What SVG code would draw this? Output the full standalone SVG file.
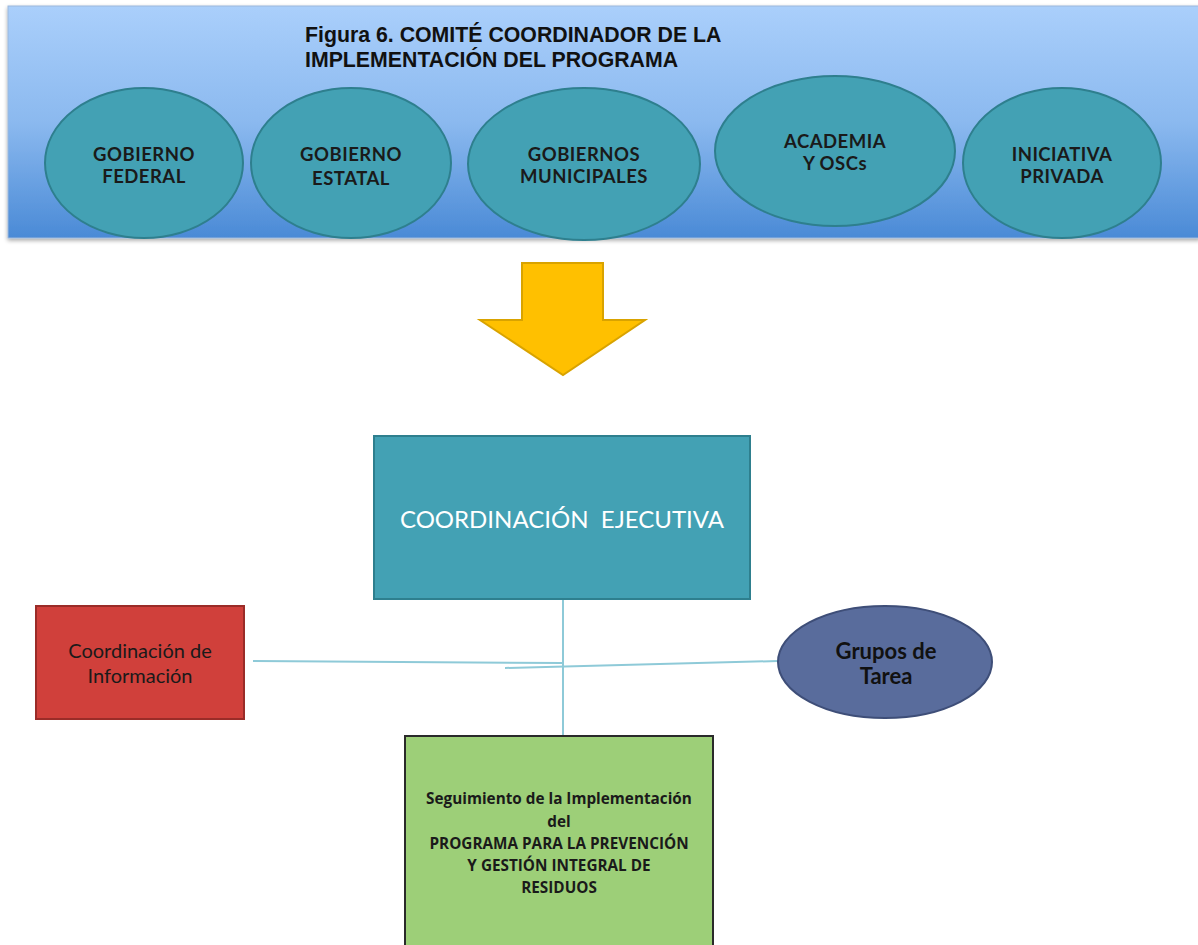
<svg xmlns="http://www.w3.org/2000/svg" width="1198" height="945" viewBox="0 0 1198 945">
<defs>
<linearGradient id="band" x1="0" y1="0" x2="0" y2="1">
<stop offset="0" stop-color="#aacffb"/>
<stop offset="0.5" stop-color="#8bb9ef"/>
<stop offset="1" stop-color="#4a8ad6"/>
</linearGradient>
<filter id="sh" x="-5%" y="-5%" width="110%" height="120%">
<feGaussianBlur in="SourceAlpha" stdDeviation="2"/>
<feOffset dy="2"/>
<feComponentTransfer><feFuncA type="linear" slope="0.35"/></feComponentTransfer>
<feMerge><feMergeNode/><feMergeNode in="SourceGraphic"/></feMerge>
</filter>
</defs>
<style>
.ell{fill:#43a1b4;stroke:#2e7f8e;stroke-width:2}
.et{font-family:Lato,"Open Sans",sans-serif;font-weight:bold;font-size:18.5px;letter-spacing:0.5px;fill:#1a1a1a;text-anchor:middle}
.title{font-family:"Liberation Sans",Arial,sans-serif;font-weight:bold;font-size:21.3px;fill:#111}
.con{stroke:#8ecad8;stroke-width:2;fill:none}
.gs{font-family:Lato,"Open Sans",sans-serif;text-anchor:middle}
.gt{font-family:"Open Sans","Liberation Sans",sans-serif;font-weight:bold;font-size:15.3px;fill:#1a1a1a;text-anchor:middle}
</style>
<rect width="1198" height="945" fill="#ffffff"/>
<g id="banner">
<rect x="8" y="6" width="1192" height="232" fill="url(#band)" stroke="#9cb8dc" stroke-width="1" filter="url(#sh)"/>
<text class="title" x="305" y="42">Figura 6. COMITÉ COORDINADOR DE LA</text>
<text class="title" x="305" y="67">IMPLEMENTACIÓN DEL PROGRAMA</text>
</g>
<g id="gobierno-federal">
<ellipse class="ell" cx="144" cy="163" rx="99" ry="75"/>
<text class="et" x="144" y="161">GOBIERNO</text>
<text class="et" x="144" y="183">FEDERAL</text>
</g>
<g id="gobierno-estatal">
<ellipse class="ell" cx="351" cy="163" rx="100" ry="75"/>
<text class="et" x="351" y="161">GOBIERNO</text>
<text class="et" x="351" y="185">ESTATAL</text>
</g>
<g id="gobiernos-municipales">
<ellipse class="ell" cx="584" cy="164" rx="116" ry="76"/>
<text class="et" x="584" y="161">GOBIERNOS</text>
<text class="et" x="584" y="183">MUNICIPALES</text>
</g>
<g id="academia">
<ellipse class="ell" cx="835" cy="151" rx="120" ry="75"/>
<text class="et" x="835" y="148">ACADEMIA</text>
<text class="et" x="835" y="170">Y OSCs</text>
</g>
<g id="iniciativa-privada">
<ellipse class="ell" cx="1062" cy="163" rx="99" ry="75"/>
<text class="et" x="1062" y="161">INICIATIVA</text>
<text class="et" x="1062" y="183">PRIVADA</text>
</g>
<g id="flecha">
<polygon points="522,263 603,263 603,320 645,320 563,375 480,320 522,320" fill="#ffc000" stroke="#d9a300" stroke-width="2"/>
</g>
<g id="connectors">
<line class="con" x1="563" y1="599" x2="563" y2="736"/>
<line class="con" x1="253" y1="661" x2="563" y2="663"/>
<line class="con" x1="505" y1="668" x2="778" y2="661"/>
</g>
<g id="coordinacion-ejecutiva">
<rect x="374" y="436" width="376" height="163" fill="#43a1b4" stroke="#2e7f8e" stroke-width="2"/>
<text class="gs" x="562" y="528" font-size="24" fill="#ffffff" xml:space="preserve">COORDINACIÓN  EJECUTIVA</text>
</g>
<g id="coordinacion-informacion">
<rect x="36" y="606" width="208" height="113" fill="#d0403b" stroke="#9a2c28" stroke-width="2"/>
<text class="gs" x="140" y="658" font-size="20" fill="#1a1a1a">Coordinación de</text>
<text class="gs" x="140" y="683" font-size="20" fill="#1a1a1a">Información</text>
</g>
<g id="grupos-tarea">
<ellipse cx="885" cy="662" rx="107" ry="56" fill="#596c9c" stroke="#3e4e78" stroke-width="2"/>
<text class="gs" x="886" y="659" font-size="22" font-weight="bold" fill="#111">Grupos de</text>
<text class="gs" x="886" y="684" font-size="22" font-weight="bold" fill="#111">Tarea</text>
</g>
<g id="seguimiento">
<rect x="405" y="736" width="308" height="215" fill="#9dcf78" stroke="#2a2a2a" stroke-width="2"/>
<text class="gt" x="559" y="804">Seguimiento de la Implementación</text>
<text class="gt" x="559" y="827">del</text>
<text class="gt" x="559" y="849">PROGRAMA PARA LA PREVENCIÓN</text>
<text class="gt" x="559" y="871">Y GESTIÓN INTEGRAL DE</text>
<text class="gt" x="559" y="893">RESIDUOS</text>
</g>
</svg>
